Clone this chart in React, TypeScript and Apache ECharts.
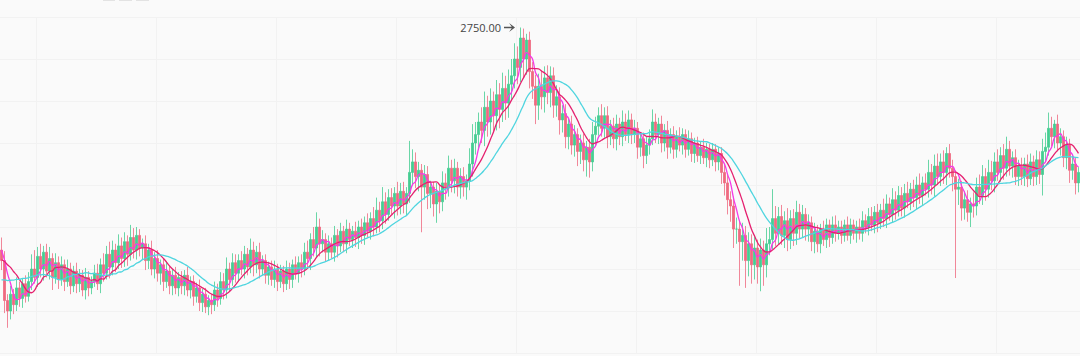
import React, { useEffect, useRef } from "react";
import * as echarts from "echarts";

// closes of the 30 sessions before the visible window (needed for the moving averages)
const hiddenCloses = [
  1480, 1460, 1500, 1470, 1440, 1460, 1490, 1470, 1450, 1430, 1460,
  1440, 1470, 1450, 1420, 1440, 1460, 1430, 1470, 1490, 1460,
  1520, 1560, 1600, 1630, 1670,
  1690, 1720, 1710, 1690,
];

// closes of the 360 visible sessions
const closes = [
  1640, 1450, 1400, 1480, 1430, 1510, 1460, 1530, 1470, 1540,
  1600, 1560, 1660, 1600, 1680, 1590, 1650, 1560, 1630, 1550,
  1620, 1540, 1600, 1520, 1590, 1530, 1570, 1500, 1560, 1510,
  1540, 1580, 1530, 1620, 1580, 1670, 1610, 1690, 1630, 1710,
  1650, 1730, 1670, 1750, 1690, 1760, 1700, 1720, 1640, 1690,
  1600, 1650, 1580, 1620, 1540, 1590, 1520, 1570, 1510, 1560,
  1520, 1570, 1500, 1540, 1470, 1510, 1440, 1480, 1420, 1450,
  1430, 1500, 1460, 1540, 1500, 1600, 1550, 1630, 1580, 1640,
  1600, 1670, 1610, 1690, 1620, 1680, 1600, 1640, 1570, 1610,
  1550, 1600, 1540, 1590, 1530, 1600, 1550, 1620, 1580, 1630,
  1600, 1680, 1650, 1740, 1700, 1800, 1720, 1740, 1680, 1720,
  1680, 1760, 1710, 1780, 1720, 1790, 1740, 1780, 1750, 1800,
  1760, 1820, 1780, 1840, 1800, 1880, 1830, 1920, 1860, 1940,
  1900, 1960, 1900, 1970, 1910, 1960, 2060, 2110, 2040, 2070,
  1990, 2050, 1960, 1990, 1910, 1970, 1920, 2010, 1990, 2080,
  2020, 2080, 1990, 2040, 1990, 2020, 2100, 2200, 2240, 2300,
  2260, 2370, 2300, 2400, 2330, 2430, 2360, 2460, 2390, 2480,
  2520, 2600, 2560, 2700, 2600, 2690, 2540, 2470, 2380, 2470,
  2420, 2510, 2440, 2520, 2380, 2420, 2310, 2340, 2230, 2290,
  2190, 2240, 2160, 2200, 2120, 2180, 2110, 2240, 2280, 2330,
  2270, 2330, 2230, 2280, 2220, 2290, 2230, 2300, 2240, 2310,
  2240, 2270, 2180, 2220, 2140, 2190, 2220, 2300, 2240, 2290,
  2200, 2260, 2180, 2240, 2170, 2230, 2190, 2240, 2170, 2220,
  2150, 2200, 2140, 2180, 2130, 2170, 2120, 2170, 2110, 2150,
  2060, 2010, 1930, 1900, 1790, 1790, 1730, 1760, 1640, 1720,
  1620, 1700, 1610, 1690, 1620, 1720, 1740, 1840, 1770, 1850,
  1760, 1830, 1740, 1840, 1770, 1870, 1790, 1860, 1790, 1820,
  1730, 1780, 1720, 1790, 1740, 1810, 1750, 1810, 1770, 1800,
  1760, 1810, 1760, 1810, 1770, 1800, 1770, 1830, 1800, 1850,
  1810, 1870, 1820, 1880, 1840, 1910, 1860, 1930, 1880, 1950,
  1890, 1960, 1920, 1980, 1940, 2000, 1950, 2010, 1980, 2060,
  2000, 2090, 2040, 2110, 2060, 2150, 2080, 2040, 1980, 1990,
  1890, 1930, 1870, 1910, 1900, 1990, 1950, 2040, 1980, 2060,
  2020, 2110, 2060, 2140, 2080, 2170, 2090, 2130, 2040, 2090,
  2040, 2100, 2030, 2110, 2040, 2120, 2050, 2160, 2180, 2270,
  2230, 2290, 2200, 2230, 2130, 2190, 2070, 2100, 2010, 2060,
];

// upper wick length above the body, per visible session
const wickUp = [
  60, 45, 30, 40, 25, 50, 30, 25, 40, 45, 70, 90, 45, 60, 30, 40, 55, 25, 45, 30,
  40, 25, 45, 30, 25, 40, 30, 25, 45, 30, 25, 40, 45, 30, 55, 40, 60, 45, 30, 55,
  40, 45, 30, 60, 45, 40, 30, 25, 40, 30, 45, 30, 40, 25, 30, 45, 25, 30, 40, 25,
  30, 25, 40, 25, 30, 25, 40, 25, 30, 25, 30, 40, 30, 45, 40, 55, 30, 45, 40, 30,
  45, 40, 30, 55, 40, 30, 45, 25, 30, 25, 30, 40, 25, 30, 25, 40, 30, 25, 40, 30,
  40, 45, 55, 30, 60, 70, 40, 45, 30, 40, 30, 45, 30, 40, 25, 45, 30, 25, 45, 30,
  40, 30, 45, 30, 55, 60, 40, 70, 45, 40, 45, 30, 55, 40, 45, 30, 150, 60, 45, 40,
  30, 45, 40, 30, 25, 40, 30, 55, 45, 60, 40, 45, 30, 40, 45, 30, 75, 90, 60, 45,
  70, 75, 55, 60, 45, 70, 55, 75, 60, 70, 80, 75, 60, 50, 45, 30, 40, 45, 55, 60,
  75, 55, 60, 45, 40, 55, 45, 40, 45, 30, 40, 45, 30, 40, 45, 30, 40, 60, 45, 40,
  55, 40, 45, 30, 40, 45, 30, 55, 40, 45, 30, 40, 30, 25, 30, 40, 45, 60, 40, 30,
  40, 30, 45, 30, 40, 30, 45, 30, 25, 40, 30, 25, 30, 25, 40, 30, 25, 30, 25, 30,
  30, 40, 45, 40, 45, 55, 40, 60, 45, 55, 45, 60, 40, 55, 45, 75, 60, 140, 60, 45,
  55, 45, 60, 40, 45, 55, 40, 45, 30, 40, 30, 40, 30, 25, 40, 30, 25, 40, 45, 30,
  30, 25, 40, 30, 25, 30, 40, 45, 30, 40, 45, 30, 40, 30, 55, 45, 30, 55, 40, 45,
  40, 45, 55, 30, 45, 40, 55, 30, 45, 60, 40, 55, 60, 40, 55, 30, 45, 40, 30, 40,
  30, 40, 45, 30, 55, 45, 60, 55, 40, 60, 55, 45, 60, 40, 55, 60, 40, 30, 40, 30,
  40, 30, 45, 40, 30, 45, 40, 60, 70, 75, 55, 20, 45, 40, 30, 40, 30, 40, 30, 25,
];

// lower wick length below the body, per visible session
const wickDown = [
  45, 60, 80, 40, 45, 30, 40, 45, 30, 25, 40, 30, 45, 40, 55, 30, 40, 60, 30, 45,
  30, 45, 25, 40, 30, 45, 40, 30, 45, 40, 30, 25, 30, 45, 40, 30, 55, 40, 45, 30,
  45, 40, 55, 30, 40, 45, 40, 55, 45, 40, 30, 45, 40, 55, 45, 30, 40, 45, 30, 40,
  40, 45, 30, 40, 45, 30, 40, 45, 30, 40, 45, 30, 40, 30, 45, 40, 55, 30, 45, 40,
  30, 45, 40, 30, 55, 40, 45, 30, 40, 45, 30, 40, 45, 30, 40, 30, 45, 40, 30, 45,
  40, 30, 45, 55, 40, 45, 60, 40, 45, 40, 30, 45, 55, 30, 40, 45, 30, 40, 45, 55,
  40, 45, 30, 40, 45, 30, 55, 40, 45, 30, 40, 60, 45, 40, 45, 55, 45, 60, 55, 70,
  215, 60, 75, 70, 60, 90, 55, 45, 60, 45, 55, 60, 45, 55, 45, 60, 45, 60, 55, 70,
  60, 75, 70, 60, 75, 70, 90, 60, 80, 70, 75, 60, 80, 70, 90, 75, 80, 60, 90, 70,
  60, 75, 55, 70, 60, 55, 70, 60, 55, 60, 45, 55, 70, 60, 55, 80, 75, 45, 55, 45,
  40, 45, 55, 40, 45, 55, 40, 45, 30, 40, 45, 40, 55, 45, 60, 40, 45, 30, 40, 45,
  45, 40, 55, 30, 45, 40, 30, 45, 40, 30, 40, 45, 30, 40, 30, 45, 40, 30, 45, 40,
  55, 60, 70, 75, 90, 70, 210, 90, 130, 75, 90, 70, 80, 116, 100, 60, 55, 45, 60, 55,
  45, 60, 55, 45, 60, 55, 45, 40, 55, 60, 45, 55, 40, 45, 30, 40, 45, 30, 40, 30,
  40, 30, 25, 40, 30, 45, 30, 40, 30, 40, 30, 40, 45, 30, 40, 45, 30, 40, 45, 30,
  40, 45, 30, 40, 45, 55, 40, 45, 30, 40, 45, 55, 40, 45, 55, 60, 45, 70, 423, 75,
  60, 55, 45, 70, 55, 45, 40, 45, 55, 40, 45, 55, 40, 45, 55, 40, 45, 55, 40, 45,
  40, 45, 40, 30, 45, 40, 45, 100, 45, 40, 45, 55, 40, 60, 45, 55, 60, 45, 55, 45,
];

const yTicks = [1200, 1400, 1600, 1800, 2000, 2200, 2400, 2600, 2800];
const maPeriods = [5, 10, 20];
const maNames = ["MA5", "MA10", "MA20"];
const maColors = ["#f53ae6", "#e5216f", "#4fd5df"];

export default function App() {
  const ref = useRef<HTMLDivElement>(null);

  useEffect(() => {
    document.body.style.margin = "0";
    if (!ref.current) return;
    const chart = echarts.init(ref.current, undefined, { renderer: "svg" });

    const allCloses = [...hiddenCloses, ...closes];
    const hidden = hiddenCloses.length;
    const categories = allCloses.map((_, i) => "D" + (i + 1));
    const ohlc = allCloses.map((c, i) => {
      const o = i === 0 ? c : allCloses[i - 1];
      const vi = i - hidden;
      const up = vi >= 0 ? wickUp[vi] ?? 30 : 20;
      const dn = vi >= 0 ? wickDown[vi] ?? 30 : 20;
      return [o, c, Math.min(o, c) - dn, Math.max(o, c) + up];
    });
    const ma = (n: number) =>
      allCloses.map((_, i) => {
        if (i < n - 1) return "-";
        let s = 0;
        for (let k = i - n + 1; k <= i; k++) s += allCloses[k];
        return +(s / n).toFixed(2);
      });

    chart.setOption({
      animation: false,
      backgroundColor: "#fafafa",
      grid: { left: 0, right: 0, top: 17, bottom: 3 },
      xAxis: {
        type: "category",
        data: categories,
        boundaryGap: true,
        axisLine: { show: false },
        axisTick: { show: false },
        axisLabel: { show: false },
        splitLine: {
          show: true,
          interval: (index: number) => (index - 2) % 40 === 0,
          lineStyle: { color: "#f2f2f2", width: 1 },
        },
      },
      yAxis: {
        type: "value",
        min: yTicks[0],
        max: yTicks[yTicks.length - 1],
        interval: 200,
        axisLine: { show: false },
        axisTick: { show: false },
        axisLabel: { show: false },
        splitLine: { show: true, lineStyle: { color: "#f2f2f2", width: 1 } },
      },
      dataZoom: [
        { type: "inside", startValue: hidden, endValue: allCloses.length - 1, zoomLock: true },
      ],
      graphic: [
        { type: "rect", shape: { x: 103, y: -6, width: 12, height: 7 }, style: { fill: "#e3e3e3" } },
        { type: "rect", shape: { x: 119, y: -6, width: 13, height: 7 }, style: { fill: "#e3e3e3" } },
        { type: "rect", shape: { x: 136, y: -6, width: 13, height: 7 }, style: { fill: "#e3e3e3" } },
      ],
      series: [
        {
          name: "K",
          type: "candlestick",
          data: ohlc,
          barWidth: 1.6,
          itemStyle: {
            color: "#45cd92",
            color0: "#ef6a80",
            borderColor: "#45cd92",
            borderColor0: "#ef6a80",
            borderWidth: 0.8,
          },
          markPoint: {
            symbol:
              "path://M0,3.3 L7,3.3 L4.6,0.4 L10,4 L4.6,7.6 L7,4.7 L0,4.7 Z",
            symbolSize: [11, 9],
            symbolOffset: [-11, 0],
            itemStyle: { color: "#555" },
            label: {
              show: true,
              position: "left",
              distance: 3,
              color: "#444",
              fontSize: 11,
              fontFamily: "Open Sans",
              formatter: (p: any) => Number(p.value).toFixed(2),
            },
            data: [{ type: "max", valueDim: "highest", name: "highest" }],
          },
        },
        ...maPeriods.map((n, k) => ({
          name: maNames[k],
          type: "line",
          data: ma(n),
          smooth: true,
          showSymbol: false,
          symbol: "none",
          lineStyle: { width: 1.3, color: maColors[k] },
          itemStyle: { color: maColors[k] },
        })),
      ],
    });

    return () => chart.dispose();
  }, []);

  return (
    <div
      ref={ref}
      style={{ position: "fixed", left: 0, top: 0, width: 1080, height: 356 }}
    />
  );
}
